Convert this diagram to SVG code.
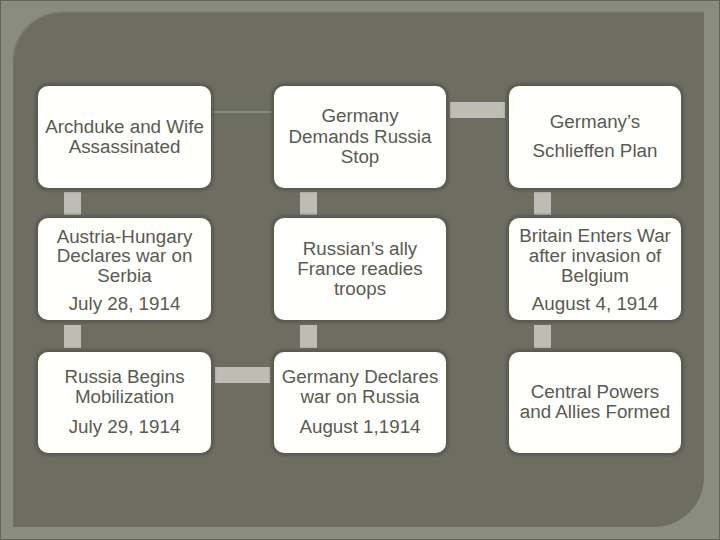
<svg xmlns="http://www.w3.org/2000/svg" width="720" height="540" viewBox="0 0 720 540">
  <defs>
    <filter id="sh" x="-10%" y="-10%" width="120%" height="120%">
      <feGaussianBlur stdDeviation="1.5"/>
    </filter>
  </defs>
  <style>
    .box { fill: #fffffd; }
    .shadow { fill: #5a5a4f; filter: url(#sh); }
    .bar { fill: #bdbdb6; }
    .thin { stroke: #849a86; stroke-width: 1.5; fill: none; }
    text { font-family: "Liberation Sans", Arial, sans-serif; font-size: 18.8px; fill: #5a5a51; text-anchor: middle; }
  </style>
  <rect x="0" y="0" width="720" height="540" fill="#8a8c7e"/>
  <rect x="0.5" y="0.5" width="719" height="539" fill="none" stroke="#62645a" stroke-width="1"/>
  <path d="M13,62 A50,50 0 0 1 63,12 L704,12 L704,477 A50,50 0 0 1 654,527 L13,527 Z" fill="#6d6d61"/>
  <path d="M13,62 A50,50 0 0 1 63,12 L704,12" fill="none" stroke="#7c7d70" stroke-width="1.5"/>

  <g id="connectors">
    <line class="thin" x1="212" y1="112" x2="272" y2="112"/>
    <rect class="bar" x="450" y="102" width="55" height="16"/>
    <rect class="bar" x="215" y="367" width="55" height="16"/>
    <rect class="bar" x="64" y="192" width="17" height="23"/>
    <rect class="bar" x="64" y="325" width="17" height="23"/>
    <rect class="bar" x="300" y="192" width="17" height="23"/>
    <rect class="bar" x="300" y="325" width="17" height="23"/>
    <rect class="bar" x="534" y="192" width="17" height="23"/>
    <rect class="bar" x="534" y="325" width="17" height="23"/>
  </g>

  <g id="n1">
    <rect class="shadow" x="35" y="83" width="179" height="108" rx="13"/>
    <rect class="box" x="38" y="86" width="173" height="102" rx="10"/>
    <text x="124.5" y="133">Archduke and Wife</text>
    <text x="124.5" y="153">Assassinated</text>
  </g>
  <g id="n2">
    <rect class="shadow" x="271" y="83" width="178" height="108" rx="13"/>
    <rect class="box" x="274" y="86" width="172" height="102" rx="10"/>
    <text x="360" y="122">Germany</text>
    <text x="360" y="143">Demands Russia</text>
    <text x="360" y="163">Stop</text>
  </g>
  <g id="n3">
    <rect class="shadow" x="506" y="83" width="178" height="108" rx="13"/>
    <rect class="box" x="509" y="86" width="172" height="102" rx="10"/>
    <text x="595" y="128">Germany’s</text>
    <text x="595" y="157">Schlieffen Plan</text>
  </g>
  <g id="n4">
    <rect class="shadow" x="35" y="215" width="179" height="108" rx="13"/>
    <rect class="box" x="38" y="218" width="173" height="102" rx="10"/>
    <text x="124.5" y="243">Austria-Hungary</text>
    <text x="124.5" y="262">Declares war on</text>
    <text x="124.5" y="282">Serbia</text>
    <text x="124.5" y="310">July 28, 1914</text>
  </g>
  <g id="n5">
    <rect class="shadow" x="271" y="215" width="178" height="108" rx="13"/>
    <rect class="box" x="274" y="218" width="172" height="102" rx="10"/>
    <text x="360" y="255">Russian’s ally</text>
    <text x="360" y="275">France readies</text>
    <text x="360" y="295">troops</text>
  </g>
  <g id="n6">
    <rect class="shadow" x="506" y="215" width="178" height="108" rx="13"/>
    <rect class="box" x="509" y="218" width="172" height="102" rx="10"/>
    <text x="595" y="242">Britain Enters War</text>
    <text x="595" y="262">after invasion of</text>
    <text x="595" y="282">Belgium</text>
    <text x="595" y="310">August 4, 1914</text>
  </g>
  <g id="n7">
    <rect class="shadow" x="35" y="349" width="179" height="107" rx="13"/>
    <rect class="box" x="38" y="352" width="173" height="101" rx="10"/>
    <text x="124.5" y="383">Russia Begins</text>
    <text x="124.5" y="403">Mobilization</text>
    <text x="124.5" y="433">July 29, 1914</text>
  </g>
  <g id="n8">
    <rect class="shadow" x="271" y="349" width="178" height="107" rx="13"/>
    <rect class="box" x="274" y="352" width="172" height="101" rx="10"/>
    <text x="360" y="383">Germany Declares</text>
    <text x="360" y="403">war on Russia</text>
    <text x="360" y="433">August 1,1914</text>
  </g>
  <g id="n9">
    <rect class="shadow" x="506" y="349" width="178" height="107" rx="13"/>
    <rect class="box" x="509" y="352" width="172" height="101" rx="10"/>
    <text x="595" y="398">Central Powers</text>
    <text x="595" y="418">and Allies Formed</text>
  </g>
</svg>
